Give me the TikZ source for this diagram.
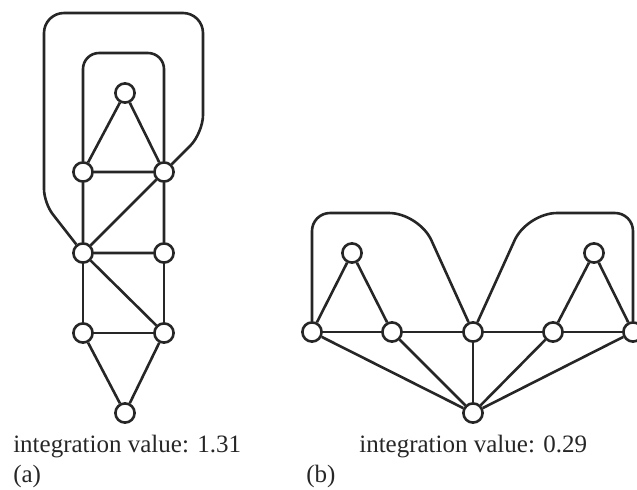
\documentclass[tikz,border=0pt]{standalone}
\usepackage{fontspec}
\setmainfont{Liberation Serif}
\usepackage{tikz}

\begin{document}
\begin{tikzpicture}[x=0.5pt,y=-0.5pt,line width=1.3pt,draw=black!85,
    vertex/.style={circle,draw=black!85,fill=white,inner sep=0pt,minimum size=9.6pt},
    caption/.style={anchor=base west,inner sep=0pt,font=\fontsize{12.5}{15}\selectfont,text=black!85}]
        \useasboundingbox (0,0) rectangle (637,489);
        % (a)
        \node[vertex] (at) at (125,93) {};
        \node[vertex] (a2l) at (83,172) {};
        \node[vertex] (a2r) at (164,172) {};
        \node[vertex] (a3l) at (83,253) {};
        \node[vertex] (a3r) at (164,253) {};
        \node[vertex] (a4l) at (83,333) {};
        \node[vertex] (a4r) at (164,333) {};
        \node[vertex] (ab) at (125,413) {};
        \draw (at) -- (a2l) -- (a2r) -- (at);
        \draw (a2l) -- (a3l) -- (a3r) -- (a2r) -- (a3l);
        \draw (a3l) -- (a4l) -- (a4r) -- (a3r);
        \draw (a3l) -- (a4r) -- (ab) -- (a4l);
        \draw[rounded corners=8pt] (a2l) -- (83,53) -- (164,53) -- (a2r);
        \draw (a3l) [rounded corners=7pt] -- (44,203) [rounded corners=10pt] -- (44,13) -- (203,13)
            [rounded corners=9pt] -- (203,133) -- (a2r);
        % (b)
        \node[vertex] (bl1) at (312,332) {};
        \node[vertex] (bl2) at (392,332) {};
        \node[vertex] (bc) at (473,332) {};
        \node[vertex] (br2) at (553,332) {};
        \node[vertex] (br1) at (633,332) {};
        \node[vertex] (btl) at (352,253) {};
        \node[vertex] (btr) at (594,253) {};
        \node[vertex] (bb) at (473,413) {};
        \draw (bl1) -- (bl2) -- (bc) -- (br2) -- (br1);
        \draw (bl1) -- (btl) -- (bl2);
        \draw (br2) -- (btr) -- (br1);
        \foreach \v in {bl1,bl2,bc,br2,br1} \draw (bb) -- (\v);
        \draw (bl1) [rounded corners=9pt] -- (312,213) [rounded corners=15pt] -- (419,213) -- (bc);
        \draw (bc) [rounded corners=15pt] -- (527,213) [rounded corners=9pt] -- (633,213) -- (br1);
        % labels
        \node[caption] (va) at (12,452) {integration value: 1.31};
        \node[caption] (la) at (12,482) {(a)};
        \node[caption] (vb) at (358,452) {integration value: 0.29};
        \node[caption] (lb) at (305,482) {(b)};
    \end{tikzpicture}
\end{document}
